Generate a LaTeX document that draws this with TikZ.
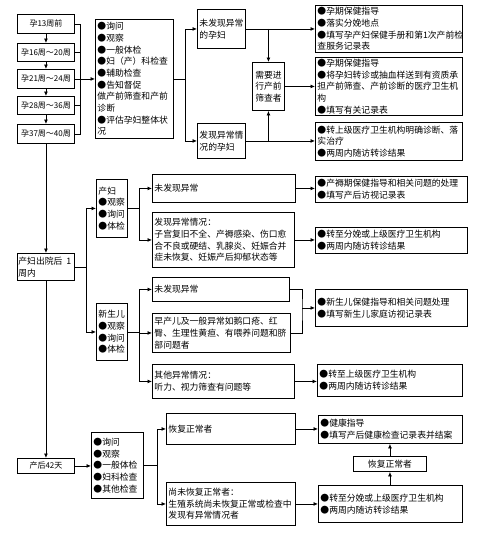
\documentclass[tikz,border=0pt]{standalone}
\usepackage{fontspec}
\newfontfamily\cjk{Noto Sans CJK SC}
\usetikzlibrary{positioning,arrows.meta}
\tikzstyle{box}=[
	rectangle,
	draw=black,
	line width=0.9pt,
	anchor=north west,
	align=left,
	inner xsep=2pt,
	inner ysep=1pt,
	text=black,
	font=\cjk\fontsize{8.8}{11.7}\selectfont]
\tikzstyle{cbox}=[box, align=center, inner xsep=1pt]
\tikzstyle{week}=[cbox, minimum width=57pt, font=\cjk\fontsize{8}{10}\selectfont]
\tikzstyle{arr}=[-{Latex[length=4.5pt,width=4pt]}]

\begin{document}
\begin{tikzpicture}[x=1pt,y=-1pt,line width=0.8pt]
		\useasboundingbox (0,0) rectangle (489,533);

		% pregnancy weeks
		\node (w1) [week, minimum height=19pt] at (17,14) {孕13周前};
		\node (w2) [week, minimum height=18pt] at (17,43) {孕16周～20周};
		\node (w3) [week, minimum height=19pt] at (17,69) {孕21周～24周};
		\node (w4) [week, minimum height=18pt] at (17,96) {孕28周～36周};
		\node (w5) [week, minimum height=19pt] at (17,124) {孕37周～40周};

		\node (ex) [box, text width=74pt, minimum height=119pt] at (95,19) {
			●询问\\●观察\\●一般体检\\●妇（产）科检查\\●辅助检查\\●告知督促\\做产前筛查和产前\\诊断\\●评估孕妇整体状\\况
		};

		\node (nf) [box, text width=44pt, minimum height=39pt] at (197,9) {未发现异常\\的孕妇};
		\node (fa) [box, text width=44pt, minimum height=35pt] at (197,123) {发现异常情\\况的孕妇};
		\node (sc) [cbox, text width=30pt, minimum height=48pt] at (252,62) {需要进\\行产前\\筛查者};

		\node (r1) [box, text width=143pt, minimum height=47pt] at (315,5) {
			●孕期保健指导\\●落实分娩地点\\●填写孕产妇保健手册和第1次产前检\\查服务记录表
		};
		\node (r2) [box, text width=143pt, minimum height=58pt] at (315,57) {
			●孕期保健指导\\●将孕妇转诊或抽血样送到有资质承\\担产前筛查、产前诊断的医疗卫生机\\构\\●填写有关记录表
		};
		\node (r3) [box, text width=143pt, minimum height=38pt] at (315,122) {
			●转上级医疗卫生机构明确诊断、落\\实治疗\\●两周内随访转诊结果
		};

		% postpartum visit
		\node (pp) [box, inner xsep=1pt, text width=55pt, minimum height=27pt] at (17,253) {产妇出院后\hspace{4pt}1\\周内};
		\node (mo) [box, text width=27pt, minimum height=58pt] at (96,179) {产妇\\●观察\\●询问\\●体检};
		\node (nb) [box, text width=27pt, minimum height=57pt] at (96,303) {新生儿\\●观察\\●询问\\●体检};

		\node (mo1) [box, text width=139pt, minimum height=28pt] at (152,174) {未发现异常};
		\node (mo2) [box, text width=138pt, minimum height=55pt] at (152,212) {
			发现异常情况：\\子宫复旧不全、产褥感染、伤口愈\\合不良或硬结、乳腺炎、妊娠合并\\症未恢复、妊娠产后抑郁状态等
		};
		\node (mr1) [box, text width=148pt, minimum height=26pt] at (315,176) {●产褥期保健指导和相关问题的处理\\●填写产后访视记录表};
		\node (mr2) [box, text width=148pt, minimum height=26pt] at (315,227) {●转至分娩或上级医疗卫生机构\\●两周内随访转诊结果};

		\node (nb1) [box, text width=133pt, minimum height=24pt] at (152,277) {未发现异常};
		\node (nb2) [box, text width=134pt, minimum height=39pt] at (152,313) {
			早产儿及一般异常如鹅口疮、红\\臀、生理性黄疸、有喂养问题和脐\\部问题者
		};
		\node (nb3) [box, text width=138pt, minimum height=34pt] at (152,364) {其他异常情况：\\听力、视力筛查有问题等};
		\node (nr1) [box, text width=148pt, minimum height=37pt] at (315,289) {●新生儿保健指导和相关问题处理\\●填写新生儿家庭访视记录表};
		\node (nr2) [box, text width=141pt, minimum height=32pt] at (317,364) {●转至上级医疗卫生机构\\●两周内随访转诊结果};

		% 42 days
		\node (d42) [week, minimum height=15pt] at (17,458) {产后42天};
		\node (ex2) [box, text width=48pt, minimum height=66pt] at (91,432) {●询问\\●观察\\●一般体检\\●妇科检查\\●其他检查};
		\node (rc) [box, text width=125pt, minimum height=31pt] at (166,413) {恢复正常者};
		\node (nr) [box, text width=125pt, minimum height=43pt] at (166,482) {
			尚未恢复正常者：\\生殖系统尚未恢复正常或检查中\\发现有异常情况者
		};
		\node (br1) [box, text width=140pt, minimum height=28pt] at (318,415) {●健康指导\\●填写产后健康检查记录表并结案};
		\node (rc2) [cbox, minimum width=73pt, minimum height=15pt] at (353,456) {恢复正常者};
		\node (br2) [box, text width=140pt, minimum height=37pt] at (318,485) {●转至分娩或上级医疗卫生机构\\●两周内随访转诊结果};

		\coordinate (jA) at (80,0);
		\coordinate (jB) at (185,0);
		\coordinate (jC) at (86,0);
		\coordinate (jD) at (139,0);
		\coordinate (jE) at (302,0);
		\coordinate (jF) at (157,0);

		% connectors
		\foreach \a/\b in {w1/w2,w2/w3,w3/w4,w4/w5,w5/pp,pp/d42}
			\draw[arr] (\a.south) -- (\b.north);
		\draw (w1.east) -- (w1.east -| jA) -- (w5.east -| jA) -- (w5.east);
		\foreach \n in {w2,w4}
			\draw (\n.east) -- (\n.east -| jA);
		\draw[arr] (w3.east) -- (w3.east -| ex.west);

		\draw (ex.east) -- (ex.east -| jB);
		\draw[arr] (ex.east -| jB) |- (nf.west);
		\draw[arr] (ex.east -| jB) |- (fa.west);
		\draw[arr] (nf.east) -- (nf.east -| r1.west);
		\draw[arr] (nf.east -| sc.north) -- (sc.north);
		\draw[arr] (fa.east) -- (fa.east -| r3.west);
		\draw[arr] (fa.east -| sc.south) -- (sc.south);
		\draw[arr] (sc.east) -- (sc.east -| r2.west);

		\draw (pp.east) -- (pp.east -| jC);
		\draw[arr] (pp.east -| jC) |- (mo.west);
		\draw[arr] (pp.east -| jC) |- (nb.west);
		\draw (mo.east) -- (mo.east -| jD);
		\draw[arr] (mo.east -| jD) |- (mo1.west);
		\draw[arr] (mo.east -| jD) |- (mo2.west);
		\draw[arr] (mo1.east) -- (mo1.east -| mr1.west);
		\draw[arr] (mo2.east) -- (mo2.east -| mr2.west);
		\draw (nb.east) -- (nb.east -| jD);
		\foreach \n in {nb1,nb2,nb3}
			\draw[arr] (nb.east -| jD) |- (\n.west);
		\draw (nb1.east) -| (jE |- nr1.west) |- (nb2.east);
		\draw[arr] (jE |- nr1.west) -- (nr1.west);
		\draw[arr] (nb3.east) -- (nb3.east -| nr2.west);

		\draw[arr] (d42.east) -- (d42.east -| ex2.west);
		\draw (ex2.east) -- (ex2.east -| jF);
		\draw[arr] (ex2.east -| jF) |- (rc.west);
		\draw[arr] (ex2.east -| jF) |- (nr.west);
		\draw[arr] (rc.east) -- (rc.east -| br1.west);
		\draw[arr] (nr.east) -- (nr.east -| br2.west);
		\draw[arr] (rc2.south |- br2.north) -- (rc2.south);
		\draw[arr] (rc2.north) -- (rc2.north |- br1.south);

	\end{tikzpicture}
\end{document}
